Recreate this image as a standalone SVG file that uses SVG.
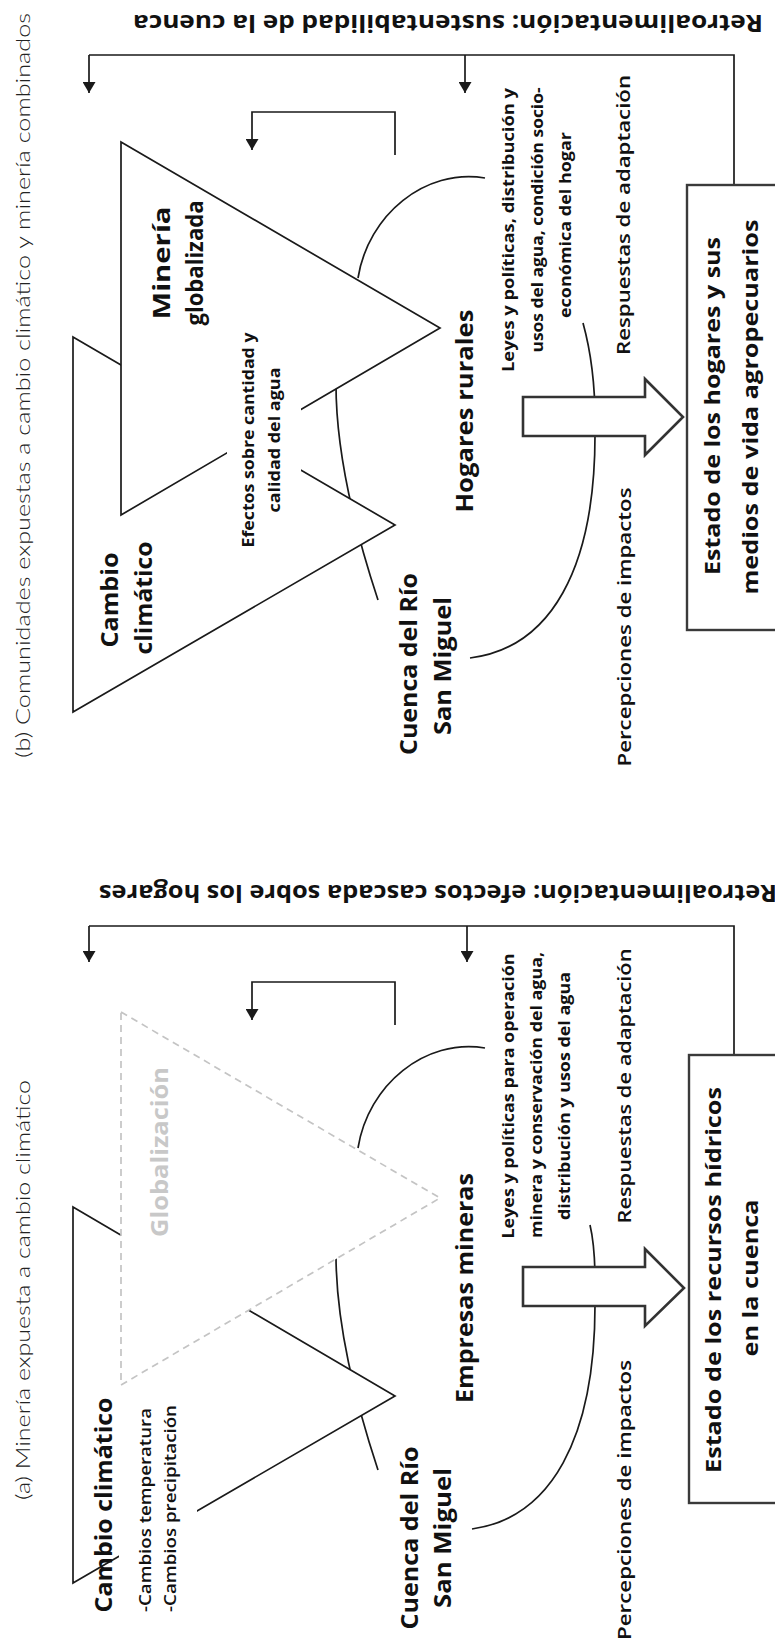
<svg xmlns="http://www.w3.org/2000/svg" width="775" height="1646" viewBox="0 0 775 1646">
<defs>
<style>
.ln{fill:none;stroke:#1a1a1a;stroke-width:1.7}
.tri{fill:#fff;stroke:#1a1a1a;stroke-width:1.7}
.glob{fill:#fff;stroke:#c4c4c4;stroke-width:1.7;stroke-dasharray:7 5}
.bigarrow{fill:#fff;stroke:#333;stroke-width:2.6}
.box{fill:#fff;stroke:#3a3a3a;stroke-width:2.4}
.mask{fill:#fff;stroke:none}
.t{font-family:"Open Sans","Liberation Sans",sans-serif;font-weight:700;fill:#111}
.big{font-size:23px}
.boxt{font-size:20.5px}
.retro{font-size:23px}
.small{font-size:15.5px}
.mid{font-size:18px;font-weight:600}
.title{font-family:Lato,"Open Sans","Liberation Sans",sans-serif;font-weight:300;font-size:20px;fill:#222}
</style>
<marker id="ah" viewBox="0 0 11 13" refX="11" refY="6.5" markerWidth="11" markerHeight="13" markerUnits="userSpaceOnUse" orient="auto">
<path d="M0,0 L11,6.5 L0,13 z" fill="#1a1a1a"/>
</marker>
</defs>
<rect width="775" height="1646" fill="#fff"/>

<!-- ===================== PANEL (b) ===================== -->
<g id="panel-b">
<g id="b-connectors">
<path class="ln" d="M378,600 Q335,470 336,380"/>
<path class="ln" d="M358,278 C368,215 425,168 485,178"/>
<path class="ln" d="M583,323 Q596,370 595,430 C596,570 550,648 470,658"/>
<path class="ln" d="M89,55 H734 V185"/>
<path class="ln" d="M89,55 V93" marker-end="url(#ah)"/>
<path class="ln" d="M465,55 V93" marker-end="url(#ah)"/>
<path class="ln" d="M395,155 V112 H252 V150" marker-end="url(#ah)"/>
</g>
<g id="b-cambio"><polygon class="tri" points="73,337 395,525 73,712"/>
<text class="t big" transform="translate(118,600) rotate(-90)" text-anchor="middle" textLength="95" lengthAdjust="spacingAndGlyphs">Cambio</text>
<text class="t big" transform="translate(152,598) rotate(-90)" text-anchor="middle" textLength="113" lengthAdjust="spacingAndGlyphs">climático</text>
</g>
<g id="b-mineria"><polygon class="tri" points="121,142 440,328 121,515"/>
<text class="t big" transform="translate(170,263) rotate(-90)" text-anchor="middle" textLength="113" lengthAdjust="spacingAndGlyphs">Minería</text>
<text class="t big" transform="translate(203,263) rotate(-90)" text-anchor="middle" textLength="125" lengthAdjust="spacingAndGlyphs">globalizada</text>
</g>
<g id="b-efectos">
<rect class="mask" x="227" y="328" width="74" height="226"/>
<text class="t small" transform="translate(254,440) rotate(-90)" text-anchor="middle" textLength="215" lengthAdjust="spacingAndGlyphs">Efectos sobre cantidad y</text>
<text class="t small" transform="translate(280,440) rotate(-90)" text-anchor="middle" textLength="145" lengthAdjust="spacingAndGlyphs">calidad del agua</text>
</g>
<g id="b-cuenca">
<text class="t big" transform="translate(417,664) rotate(-90)" text-anchor="middle" textLength="182" lengthAdjust="spacingAndGlyphs">Cuenca del Río</text>
<text class="t big" transform="translate(451,666) rotate(-90)" text-anchor="middle" textLength="138" lengthAdjust="spacingAndGlyphs">San Miguel</text>
</g>
<g id="b-hogares">
<text class="t big" transform="translate(473,411) rotate(-90)" text-anchor="middle" textLength="203" lengthAdjust="spacingAndGlyphs">Hogares rurales</text>
</g>
<g id="b-leyes">
<text class="t small" transform="translate(514,230) rotate(-90)" text-anchor="middle" textLength="284" lengthAdjust="spacingAndGlyphs">Leyes y políticas,  distribución y</text>
<text class="t small" transform="translate(543,220) rotate(-90)" text-anchor="middle" textLength="265" lengthAdjust="spacingAndGlyphs">usos del agua, condición socio-</text>
<text class="t small" transform="translate(571,225) rotate(-90)" text-anchor="middle" textLength="186" lengthAdjust="spacingAndGlyphs">económica del hogar</text>
</g>
<g id="b-arrow"><polygon class="bigarrow" points="523,397 645,397 645,379 683,417 645,455 645,436 523,436"/></g>
<g id="b-respuestas"><text class="t mid" transform="translate(630,215) rotate(-90)" text-anchor="middle" textLength="280" lengthAdjust="spacingAndGlyphs">Respuestas de adaptación</text></g>
<g id="b-percepciones"><text class="t mid" transform="translate(631,627) rotate(-90)" text-anchor="middle" textLength="279" lengthAdjust="spacingAndGlyphs">Percepciones de impactos</text></g>
<g id="b-estado">
<rect class="box" x="687" y="185" width="120" height="445"/>
<text class="t boxt" transform="translate(720,406) rotate(-90)" text-anchor="middle" textLength="338" lengthAdjust="spacingAndGlyphs">Estado de los hogares y sus</text>
<text class="t boxt" transform="translate(758,407) rotate(-90)" text-anchor="middle" textLength="375" lengthAdjust="spacingAndGlyphs">medios de vida agropecuarios</text>
</g>
<g id="b-retro"><text class="t retro" transform="translate(763,15) rotate(180)" textLength="630" lengthAdjust="spacingAndGlyphs">Retroalimentación: sustentabilidad de la cuenca</text></g>
<g id="b-title"><text class="title" transform="translate(29.5,385.5) rotate(-90)" text-anchor="middle" textLength="745" lengthAdjust="spacingAndGlyphs">(b) Comunidades expuestas a cambio climático y minería combinados</text></g>
</g>

<!-- ===================== PANEL (a) ===================== -->
<g id="panel-a">
<g id="a-connectors">
<path class="ln" d="M378,1470 Q335,1340 336,1250"/>
<path class="ln" d="M358,1148 C368,1085 425,1038 485,1048"/>
<path class="ln" d="M590,1225 Q596,1250 595,1300 C596,1440 550,1518 472,1529"/>
<path class="ln" d="M89,926 H734 V1055"/>
<path class="ln" d="M89,926 V962" marker-end="url(#ah)"/>
<path class="ln" d="M467,926 V962" marker-end="url(#ah)"/>
<path class="ln" d="M395,1025 V982 H252 V1020" marker-end="url(#ah)"/>
</g>
<g id="a-cambio"><polygon class="tri" points="73,1207 395,1396 73,1583"/></g>
<g id="a-globalizacion"><polygon class="glob" points="121,1012 440,1198 121,1385"/>
<text class="t big" style="fill:#c8c8c8" transform="translate(168,1152) rotate(-90)" text-anchor="middle" textLength="170" lengthAdjust="spacingAndGlyphs">Globalización</text>
</g>
<g id="a-cambio-labels">
<rect class="mask" x="119" y="1398" width="78" height="222"/>
<text class="t big" transform="translate(112,1505) rotate(-90)" text-anchor="middle" textLength="215" lengthAdjust="spacingAndGlyphs">Cambio climático</text>
<text class="t small" style="font-size:16px;font-weight:600" transform="translate(151,1612) rotate(-90)" textLength="204" lengthAdjust="spacingAndGlyphs">-Cambios temperatura</text>
<text class="t small" style="font-size:16px;font-weight:600" transform="translate(176,1612) rotate(-90)" textLength="207" lengthAdjust="spacingAndGlyphs">-Cambios precipitación</text>
</g>
<g id="a-cuenca">
<text class="t big" transform="translate(418,1538) rotate(-90)" text-anchor="middle" textLength="183" lengthAdjust="spacingAndGlyphs">Cuenca del Río</text>
<text class="t big" transform="translate(451,1538) rotate(-90)" text-anchor="middle" textLength="140" lengthAdjust="spacingAndGlyphs">San Miguel</text>
</g>
<g id="a-empresas">
<text class="t big" transform="translate(473,1288) rotate(-90)" text-anchor="middle" textLength="230" lengthAdjust="spacingAndGlyphs">Empresas mineras</text>
</g>
<g id="a-leyes">
<text class="t small" transform="translate(514,1096) rotate(-90)" text-anchor="middle" textLength="285" lengthAdjust="spacingAndGlyphs">Leyes y políticas para operación</text>
<text class="t small" transform="translate(542,1095) rotate(-90)" text-anchor="middle" textLength="286" lengthAdjust="spacingAndGlyphs">minera y conservación del agua,</text>
<text class="t small" transform="translate(570,1096) rotate(-90)" text-anchor="middle" textLength="248" lengthAdjust="spacingAndGlyphs">distribución y usos del agua</text>
</g>
<g id="a-arrow"><polygon class="bigarrow" points="523,1267 645,1267 645,1249 684,1288 645,1326 645,1306 523,1306"/></g>
<g id="a-respuestas"><text class="t mid" transform="translate(631,1086) rotate(-90)" text-anchor="middle" textLength="275" lengthAdjust="spacingAndGlyphs">Respuestas de adaptación</text></g>
<g id="a-percepciones"><text class="t mid" transform="translate(631,1500) rotate(-90)" text-anchor="middle" textLength="280" lengthAdjust="spacingAndGlyphs">Percepciones de impactos</text></g>
<g id="a-estado">
<rect class="box" x="689" y="1055" width="120" height="448"/>
<text class="t boxt" transform="translate(721,1280) rotate(-90)" text-anchor="middle" textLength="386" lengthAdjust="spacingAndGlyphs">Estado de los recursos hídricos</text>
<text class="t boxt" transform="translate(758,1278) rotate(-90)" text-anchor="middle" textLength="157" lengthAdjust="spacingAndGlyphs">en la cuenca</text>
</g>
<g id="a-retro"><text class="t retro" transform="translate(777,885) rotate(180)" textLength="678" lengthAdjust="spacingAndGlyphs">Retroalimentación: efectos cascada sobre los hogares</text></g>
<g id="a-title"><text class="title" transform="translate(29.5,1290) rotate(-90)" text-anchor="middle" textLength="420" lengthAdjust="spacingAndGlyphs">(a) Minería expuesta a cambio climático</text></g>
</g>
</svg>
